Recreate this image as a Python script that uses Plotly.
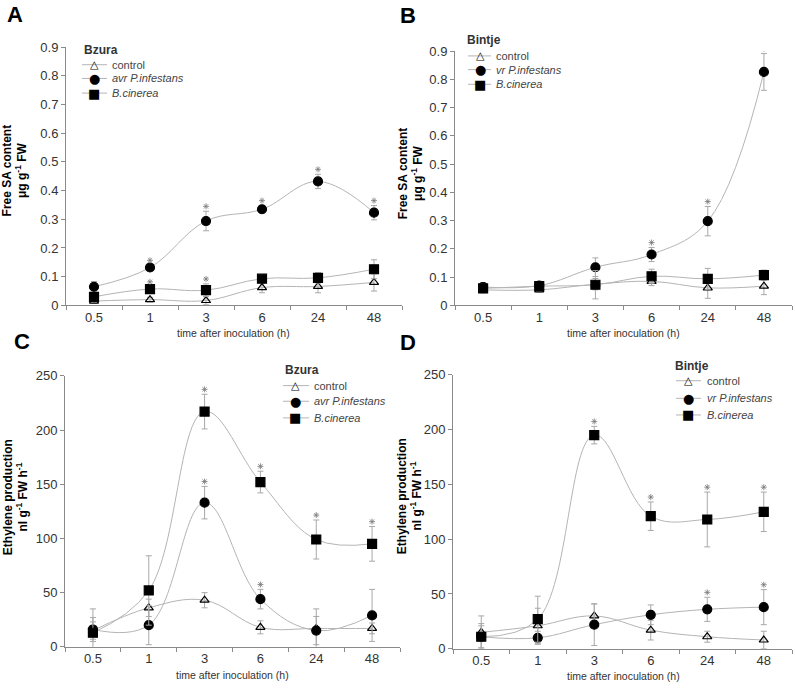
import plotly.graph_objects as go

times = ["0.5", "1", "3", "6", "24", "48"]

# Panel A - Bzura, free SA
A_control = [0.015, 0.02, 0.017, 0.062, 0.066, 0.08]
A_control_err = [0.008, 0.008, 0.015, 0.018, 0.022, 0.03]
A_avr = [0.065, 0.132, 0.294, 0.335, 0.432, 0.323]
A_avr_err = [0.018, 0.008, 0.034, 0.013, 0.025, 0.025]
A_bc = [0.030, 0.057, 0.053, 0.093, 0.096, 0.126]
A_bc_err = [0.012, 0.008, 0.022, 0.012, 0.018, 0.033]
A_avr_sig = [0, 1, 1, 1, 1, 1]
A_bc_sig = [0, 1, 1, 0, 0, 0]

# Panel B - Bintje, free SA
B_control = [0.055, 0.055, 0.075, 0.085, 0.062, 0.068]
B_control_err = [0.01, 0.008, 0.02, 0.015, 0.037, 0.03]
B_vr = [0.065, 0.07, 0.135, 0.18, 0.298, 0.826]
B_vr_err = [0.016, 0.01, 0.033, 0.025, 0.052, 0.065]
B_bc = [0.06, 0.068, 0.073, 0.103, 0.094, 0.107]
B_bc_err = [0.015, 0.01, 0.05, 0.025, 0.037, 0.018]
B_vr_sig = [0, 0, 0, 1, 1, 1]
B_bc_sig = [0, 0, 0, 0, 0, 0]

# Panel C - Bzura, ethylene
C_control = [15, 36, 43, 18, 17, 17]
C_control_err = [8, 8, 7, 6, 18, 5]
C_avr = [16, 20, 133, 44, 15, 29]
C_avr_err = [11, 18, 15, 9, 13, 24]
C_bc = [13, 52, 217, 152, 99, 95]
C_bc_err = [22, 32, 16, 10, 18, 16]
C_avr_sig = [0, 0, 1, 1, 0, 0]
C_bc_sig = [0, 0, 1, 1, 1, 1]

# Panel D - Bintje, ethylene
D_control = [15, 21, 30, 17, 11, 8]
D_control_err = [15, 16, 11, 9, 5, 8]
D_vr = [11, 10, 22, 31, 36, 38]
D_vr_err = [10, 6, 19, 9, 11, 16]
D_bc = [11, 27, 195, 121, 118, 125]
D_bc_err = [12, 21, 8, 13, 25, 18]
D_vr_sig = [0, 0, 0, 0, 1, 1]
D_bc_sig = [0, 0, 1, 1, 1, 1]

FONT = "Arial, Liberation Sans, sans-serif"
LINE = "#b4b4b4"
ERR = "#a8a8a8"
AX = "#8a8a8a"
TXT = "#333333"
W, H = 795, 692


def px_x(p):
    return p / W


def px_y(p):
    return 1 - p / H


domains = {
    "": ([66, 402], [41, 305], [0, 0.9], 0.1),
    "2": ([455, 792], [45, 305], [0, 0.9], 0.1),
    "3": ([65, 400], [377, 654], [0, 250], 50),
    "4": ([453, 792], [376, 656], [0, 250], 50),
}

fig = go.Figure()

panels = [
    ("", "Bzura", "avr P.infestans",
     A_control, A_control_err, A_avr, A_avr_err, A_bc, A_bc_err, A_avr_sig, A_bc_sig),
    ("2", "Bintje", "vr P.infestans",
     B_control, B_control_err, B_vr, B_vr_err, B_bc, B_bc_err, B_vr_sig, B_bc_sig),
    ("3", "Bzura", "avr P.infestans",
     C_control, C_control_err, C_avr, C_avr_err, C_bc, C_bc_err, C_avr_sig, C_bc_sig),
    ("4", "Bintje", "vr P.infestans",
     D_control, D_control_err, D_vr, D_vr_err, D_bc, D_bc_err, D_vr_sig, D_bc_sig),
]

# legend layout (pixel positions): title x, title y, row ys, line x0, x1, marker x, text x
legend_geo = {
    "": (82, 44, [59, 73, 88], 82, 107, 94, 110),
    "2": (465, 34, [50, 64, 79], 468, 491, 480, 494),
    "3": (283, 371, [387, 403, 420], 283, 309, 295, 312),
    "4": (673, 367, [382, 400, 417], 676, 701, 688, 705),
}

annotations = []
shapes = []
glyphs = [("△", 11), ("●", 13), ("■", 13)]

for (sfx, cult, pname, ctl, ctle, pin, pine, bc, bce, psig, bsig) in panels:
    xa, ya = "x" + sfx, "y" + sfx
    xd, yd, yr, dt = domains[sfx]
    # data units per pixel, used to lift the significance star just above the error bar
    upp = (yr[1] - yr[0]) / (yd[1] - yd[0])
    series = [
        ("control", False, ctl, ctle, "triangle-up-open", 8, None),
        (pname, True, pin, pine, "circle", 9, psig),
        ("B.cinerea", True, bc, bce, "square", 9, bsig),
    ]
    tx, ty, rows, lx0, lx1, mx, txx = legend_geo[sfx]
    annotations.append(dict(
        x=px_x(tx), y=px_y(ty), xref="paper", yref="paper", text="<b>" + cult + "</b>",
        showarrow=False, xanchor="left", yanchor="middle",
        font=dict(size=12, color=TXT, family=FONT)))
    for k, (name, ital, vals, errs, sym, sz, sig) in enumerate(series):
        fig.add_trace(go.Scatter(
            x=list(range(len(times))), y=vals, name=name, xaxis=xa, yaxis=ya,
            mode="lines+markers", showlegend=False,
            line=dict(color=LINE, width=1, shape="spline", smoothing=1.1),
            marker=dict(symbol=sym, size=sz, color="black",
                        line=dict(color="black", width=1.2)),
            error_y=dict(type="data", array=errs, color=ERR, thickness=1, width=3),
        ))
        if sig:
            sx = [i for i, s in enumerate(sig) if s]
            sy = [vals[i] + errs[i] + 5 * upp for i in sx]
            fig.add_trace(go.Scatter(
                x=sx, y=sy, xaxis=xa, yaxis=ya, mode="markers", showlegend=False,
                hoverinfo="skip",
                marker=dict(symbol="asterisk-open", size=5, color="#777777",
                            line=dict(color="#777777", width=0.8)),
            ))
        # manual legend row
        ry = rows[k]
        shapes.append(dict(type="line", xref="paper", yref="paper",
                           x0=px_x(lx0), x1=px_x(lx1), y0=px_y(ry), y1=px_y(ry),
                           line=dict(color=LINE, width=1)))
        g, gs = glyphs[k]
        annotations.append(dict(
            x=px_x(mx), y=px_y(ry), xref="paper", yref="paper", text=g,
            showarrow=False, xanchor="center", yanchor="middle",
            font=dict(size=gs, color="black", family="DejaVu Sans")))
        annotations.append(dict(
            x=px_x(txx), y=px_y(ry), xref="paper", yref="paper",
            text=("<i>" + name + "</i>") if ital else name,
            showarrow=False, xanchor="left", yanchor="middle",
            font=dict(size=11, color="#444444", family=FONT)))

layout = dict(
    width=W, height=H, margin=dict(l=0, r=0, t=0, b=0),
    paper_bgcolor="white", plot_bgcolor="white",
    font=dict(family=FONT, color=TXT),
    showlegend=False, hovermode=False,
)
for sfx, (xd, yd, yr, dt) in domains.items():
    layout["xaxis" + sfx] = dict(
        domain=[px_x(xd[0]), px_x(xd[1])], anchor="y" + sfx,
        range=[-0.5, 5.5], tickmode="array", tickvals=list(range(len(times))),
        ticktext=times, ticks="",
        minor=dict(tickmode="linear", tick0=-0.5, dtick=1, ticks="outside",
                   ticklen=4, tickcolor=AX),
        showline=True, linecolor=AX,
        linewidth=1, showgrid=False, zeroline=False,
        tickfont=dict(size=13, color=TXT, family=FONT),
    )
    layout["yaxis" + sfx] = dict(
        domain=[px_y(yd[1]), px_y(yd[0])], anchor="x" + sfx,
        range=yr, dtick=dt, tick0=0, ticks="outside", ticklen=4, tickcolor=AX,
        showline=True, linecolor=AX, linewidth=1, showgrid=False, zeroline=False,
        tickfont=dict(size=13, color=TXT, family=FONT),
    )

ytitles = [
    ("Free SA content<br>μg g<sup>-1</sup> FW", 15, 167),
    ("Free SA content<br>μg g<sup>-1</sup> FW", 411, 170),
    ("Ethylene production<br>nl g<sup>-1</sup> FW h<sup>-1</sup>", 16, 501),
    ("Ethylene production<br>nl g<sup>-1</sup> FW h<sup>-1</sup>", 410, 500),
]
for txt, cx, cy in ytitles:
    annotations.append(dict(
        x=px_x(cx), y=px_y(cy), xref="paper", yref="paper", text="<b>" + txt + "</b>",
        textangle=-90, showarrow=False, xanchor="center", yanchor="middle",
        font=dict(size=12, color="black", family=FONT)))

xtitles = [(233, 333), (623, 333), (232, 683), (623, 684)]
for cx, cy in xtitles:
    annotations.append(dict(
        x=px_x(cx), y=px_y(cy), xref="paper", yref="paper",
        text="time after inoculation (h)", showarrow=False,
        xanchor="center", yanchor="middle",
        font=dict(size=10.5, color=TXT, family=FONT)))

letters = [("A", 15, 8), ("B", 408, 9), ("C", 22, 342), ("D", 408, 343)]
for L, cx, cy in letters:
    annotations.append(dict(
        x=px_x(cx), y=px_y(cy), xref="paper", yref="paper", text="<b>" + L + "</b>",
        showarrow=False, xanchor="center", yanchor="middle",
        font=dict(size=22, color="black", family=FONT)))

layout["annotations"] = annotations
layout["shapes"] = shapes
fig.update_layout(**layout)
fig.write_html("out.html", config={"displayModeBar": False, "staticPlot": True},
               post_script="document.body.style.margin='0';")
